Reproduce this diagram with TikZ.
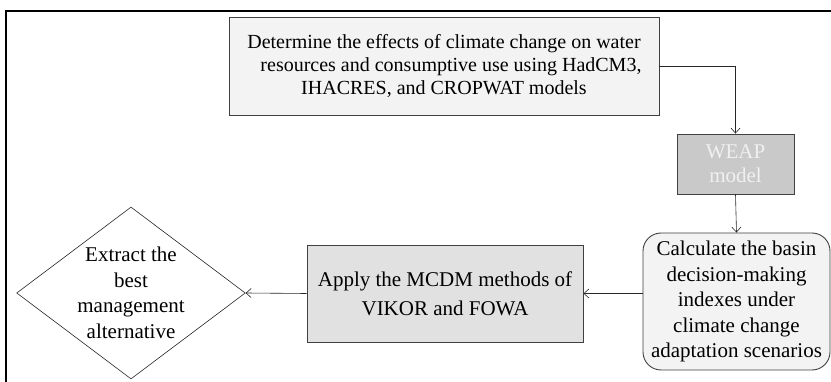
\documentclass[tikz,border=0pt]{standalone}
\usepackage{fontspec}
\setmainfont{Liberation Serif}
\usepackage{xcolor}
\usepackage{tikz}
\usetikzlibrary{arrows.meta,shapes.geometric}

\definecolor{lightbox}{HTML}{F3F3F3}
\definecolor{midbox}{HTML}{E1E1E1}
\definecolor{weapbox}{HTML}{C9C9C9}

\begin{document}
\begin{tikzpicture}[x=1pt,y=-1pt,
  flowbox/.style={draw=black!75,line width=0.9pt,align=center,inner sep=0pt},
  link/.style={draw=black!85,line width=0.6pt},
  tip/.style={-{Straight Barb[length=5pt,width=9pt,line width=0.6pt]}}]
\useasboundingbox (0,0) rectangle (831,382);
\draw[line width=2.2pt] (6,382) -- (6,11) -- (831,11);
\node[flowbox,fill=lightbox,minimum width=430pt,minimum height=98pt,font=\fontsize{20}{23}\selectfont] (effects) at (444,66) {Determine the effects of climate change on water\\ \hspace*{0.7em}resources and consumptive use using HadCM3,\\ IHACRES, and CROPWAT models};
\node[flowbox,fill=weapbox,text=white!88!gray,minimum width=117pt,minimum height=60pt,font=\fontsize{21}{24}\selectfont] (weap) at (735.5,164) {WEAP\\ model};
\node[flowbox,fill=lightbox,rounded corners=18pt,minimum width=187pt,minimum height=137pt,font=\fontsize{21}{25.5}\selectfont] (calc) at (736.5,301.5) {Calculate the basin\\ decision-making\\ indexes under\\ climate change\\ adaptation scenarios};
\node[flowbox,fill=midbox,minimum width=276pt,minimum height=97pt,font=\fontsize{21}{29}\selectfont] (mcdm) at (445,293.5) {Apply the MCDM methods of\\ VIKOR and FOWA};
\node[diamond,draw=black!85,line width=0.6pt,shape aspect=1.33,inner sep=0pt,align=center,font=\fontsize{21}{25.5}\selectfont] (best) at (131,293) {Extract the\\ best\\ management\\ alternative};
\draw[link,tip] (effects.east) -| (weap.north);
\draw[link,tip] (weap.south) -- (calc.north);
\draw[link,tip] (calc.west |- mcdm.east) -- (mcdm.east);
\draw[link,tip] (mcdm.west) -- (best.east);
\end{tikzpicture}
\end{document}
